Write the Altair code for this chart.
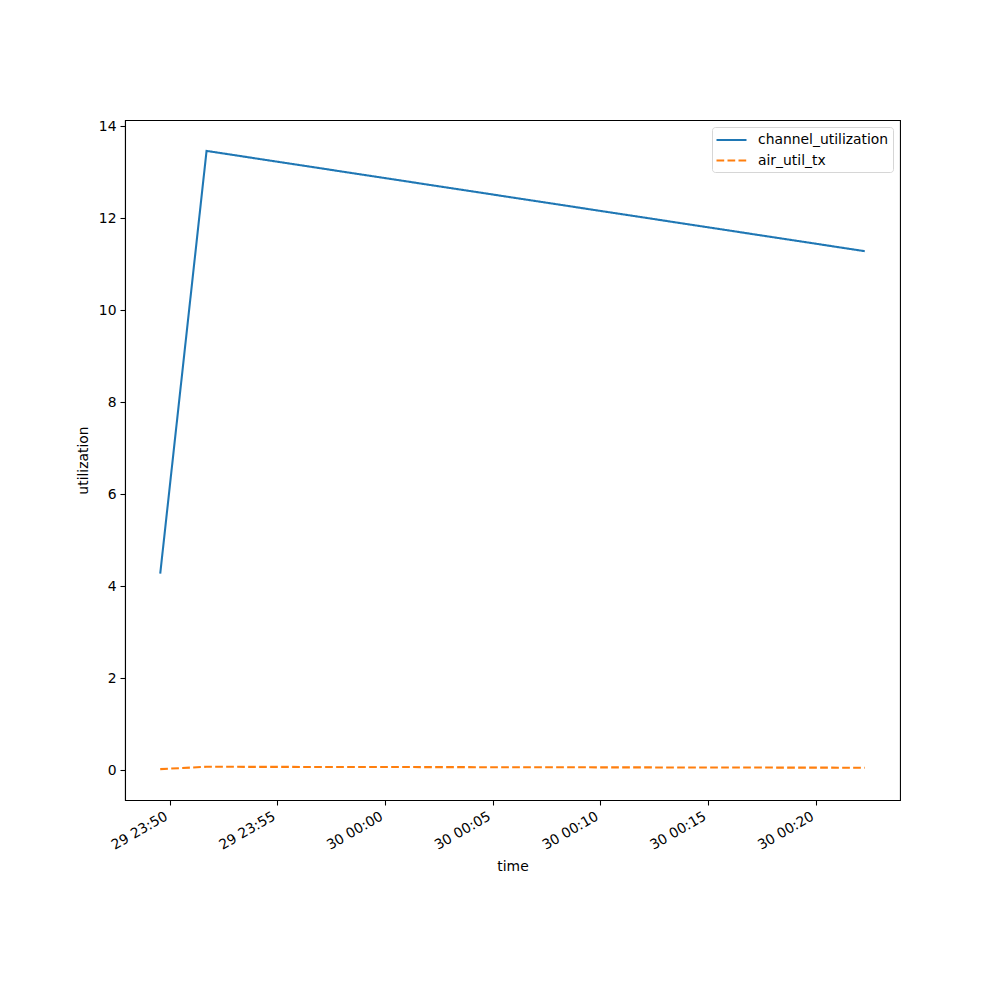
import altair as alt
import pandas as pd

times = ["2024-01-29T23:49:34Z", "2024-01-29T23:51:43Z", "2024-01-30T00:22:16Z"]
channel_utilization = [4.27, 13.46, 11.28]
air_util_tx = [0.02, 0.07, 0.05]
series_names = ["channel_utilization", "air_util_tx"]
tick_times = ["2024-01-29T23:50:00Z", "2024-01-29T23:55:00Z", "2024-01-30T00:00:00Z",
              "2024-01-30T00:05:00Z", "2024-01-30T00:10:00Z", "2024-01-30T00:15:00Z",
              "2024-01-30T00:20:00Z"]
y_ticks = [0, 2, 4, 6, 8, 10, 12, 14]


def ms(s):
    return int(pd.Timestamp(s).value // 10**6)


rows = []
for t, v in zip(times, channel_utilization):
    rows.append({"time": ms(t), "value": v, "series": series_names[0]})
for t, v in zip(times, air_util_tx):
    rows.append({"time": ms(t), "value": v, "series": series_names[1]})
df = pd.DataFrame(rows)

t0 = ms(times[0])
t1 = ms(times[-1])
span = t1 - t0
x_domain = [t0 - 0.05 * span, t1 + 0.05 * span]
ymin = min(air_util_tx)
ymax = max(channel_utilization)
yspan = ymax - ymin
y_domain = [ymin - 0.05 * yspan, ymax + 0.05 * yspan]

FS = 13.9


def make_legend():
    return alt.Legend(title=None, orient="top-right", offset=7,
                      symbolType="M-2,0H2", symbolSize=225, symbolOffset=6.5,
                      symbolStrokeWidth=2.08, labelFontSize=FS,
                      labelFont="DejaVu Sans", labelColor="black",
                      labelOffset=17.5, padding=4, rowPadding=4.5,
                      strokeColor="#d6d6d6", fillColor="white",
                      cornerRadius=3)


chart = alt.Chart(df).mark_line(strokeWidth=2.08, clip=True).encode(
    x=alt.X("time:T",
            scale=alt.Scale(type="utc", domain=x_domain, nice=False),
            axis=alt.Axis(title="time", format="%d %H:%M",
                          values=[ms(t) for t in tick_times],
                          labelAngle=-30, labelAlign="right", labelBaseline="top",
                          labelOffset=-7,
                          grid=False, domainColor="black", tickColor="black",
                          tickSize=5, labelPadding=4, labelColor="black",
                          labelFontSize=FS, titleFontSize=FS, titleFontWeight="normal",
                          titleColor="black", titlePadding=7, labelFont="DejaVu Sans",
                          titleFont="DejaVu Sans", labelOverlap=False)),
    y=alt.Y("value:Q",
            scale=alt.Scale(domain=y_domain, nice=False, zero=False),
            axis=alt.Axis(title="utilization", values=y_ticks, grid=False,
                          domainColor="black", tickColor="black", tickSize=5,
                          labelPadding=4, labelColor="black", labelFontSize=FS,
                          titleFontSize=FS, titleFontWeight="normal", titleColor="black",
                          titlePadding=8, labelFont="DejaVu Sans", titleFont="DejaVu Sans")),
    color=alt.Color("series:N",
                    scale=alt.Scale(domain=series_names, range=["#1f77b4", "#ff7f0e"]),
                    sort=series_names,
                    legend=make_legend()),
    strokeDash=alt.StrokeDash("series:N",
                              scale=alt.Scale(domain=series_names, range=[[1, 0], [7.7, 3.3]]),
                              sort=series_names,
                              legend=make_legend()),
).properties(
    width=775, height=680,
    autosize=alt.AutoSizeParams(type="none"),
    padding={"left": 117, "top": 112, "right": 84, "bottom": 184},
).configure_view(
    stroke="black", strokeWidth=1.07
).configure_axis(
    domainWidth=1.07, tickWidth=1.07
)

chart.save("out.html", embed_options={"renderer": "svg", "actions": False})
